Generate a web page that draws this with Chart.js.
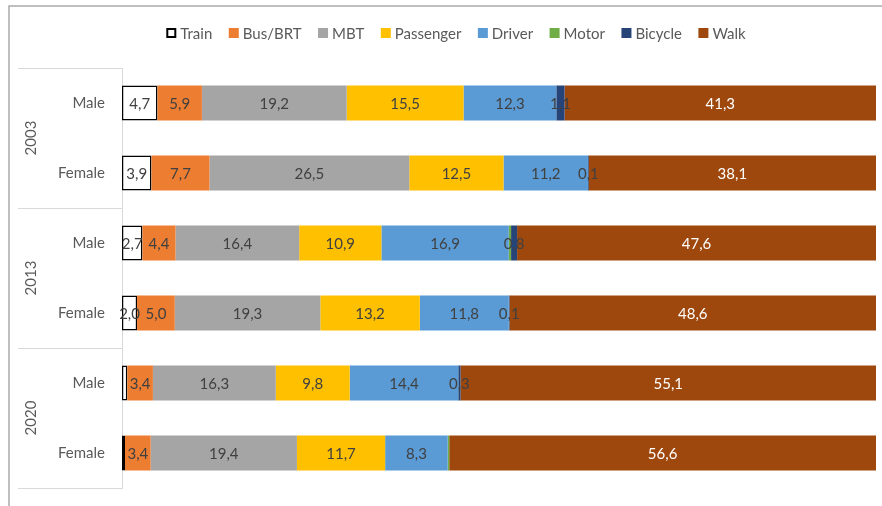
<!DOCTYPE html>
<html>
<head>
<meta charset="utf-8">
<script src="https://cdn.jsdelivr.net/npm/chart.js@4.4.1/dist/chart.umd.min.js"></script>
<style>
  html, body { margin: 0; padding: 0; background: #ffffff; }
  #wrap { width: 882px; height: 506px; position: relative; }
</style>
</head>
<body>
<div id="wrap"><canvas id="chart" width="882" height="506"></canvas></div>
<script>
// Modal split (%) by survey year and gender
const years = ['2003', '2013', '2020'];
const genders = ['Male', 'Female', 'Male', 'Female', 'Male', 'Female'];
const modes = ['Train', 'Bus/BRT', 'MBT', 'Passenger', 'Driver', 'Motor', 'Bicycle', 'Walk'];

const train     = [4.7, 3.9, 2.7, 2.0, 0.7, 0.4];
const busBrt    = [5.9, 7.7, 4.4, 5.0, 3.4, 3.4];
const mbt       = [19.2, 26.5, 16.4, 19.3, 16.3, 19.4];
const passenger = [15.5, 12.5, 10.9, 13.2, 9.8, 11.7];
const driver    = [12.3, 11.2, 16.9, 11.8, 14.4, 8.3];
const motor     = [0.0, 0.0, 0.3, 0.0, 0.0, 0.2];
const bicycle   = [1.1, 0.1, 0.8, 0.1, 0.3, 0.0];
const walk      = [41.3, 38.1, 47.6, 48.6, 55.1, 56.6];

const FONT = 'Lato, "Open Sans", sans-serif';
const seriesValues = [train, busBrt, mbt, passenger, driver, motor, bicycle, walk];
const fills   = ['#ffffff', '#ED7D31', '#A5A5A5', '#FFC000', '#5B9BD5', '#70AD47', '#264478', '#9E480E'];
const inkColors = ['#404040', '#404040', '#404040', '#404040', '#404040', '#404040', '#404040', '#ffffff'];

// each bar is shown as a share of its row total (100% stacked)
const rowTotals = genders.map((_, i) => seriesValues.reduce((s, arr) => s + arr[i], 0));

const datasets = modes.map((name, k) => ({
  label: name,
  data: seriesValues[k].map((v, i) => v / rowTotals[i] * 100),
  raw: seriesValues[k],
  backgroundColor: fills[k],
  borderColor: k === 0 ? '#000000' : fills[k],
  borderWidth: k === 0 ? 1.5 : 0,
  borderSkipped: false,
  categoryPercentage: 0.5,
  barPercentage: 1.0,
  inkColor: inkColors[k]
}));

function showLabel(k, v) {
  if (modes[k] === 'Motor') return false;
  if (modes[k] === 'Train') return v >= 1;
  return v > 0;
}

const fmt = v => v.toFixed(1).replace('.', ',');

// chart frame: left and top border lines
const framePlugin = {
  id: 'frame',
  beforeDraw(chart) {
    const c = chart.ctx;
    c.save();
    c.strokeStyle = '#ababab';
    c.lineWidth = 1.5;
    c.beginPath();
    c.moveTo(9, 506);
    c.lineTo(9, 6);
    c.lineTo(882, 6);
    c.stroke();
    c.restore();
  }
};

// legend row across the top
const legendPlugin = {
  id: 'modeLegend',
  afterDraw(chart) {
    const c = chart.ctx;
    c.save();
    c.font = '15px ' + FONT;
    c.textBaseline = 'middle';
    c.textAlign = 'left';
    const box = 10, gapText = 4, gapItem = 16.5, cy = 33;
    const widths = modes.map(m => box + gapText + c.measureText(m).width);
    const total = widths.reduce((a, b) => a + b, 0) + gapItem * (modes.length - 1);
    let x = (167 + 745) / 2 - total / 2;
    modes.forEach((m, k) => {
      if (k === 0) {
        c.fillStyle = '#ffffff';
        c.fillRect(x, cy - box / 2, box, box);
        c.strokeStyle = '#000000';
        c.lineWidth = 2;
        c.strokeRect(x + 1, cy - box / 2 + 1, box - 2, box - 2);
      } else {
        c.fillStyle = fills[k];
        c.fillRect(x, cy - box / 2, box, box);
      }
      c.fillStyle = '#595959';
      c.fillText(m, x + box + gapText, cy + 1);
      x += widths[k] + gapItem;
    });
    c.restore();
  }
};

// two-level category axis: gender labels, year group boxes, rotated years
const groupPlugin = {
  id: 'groups',
  afterDraw(chart) {
    const c = chart.ctx;
    const ys = chart.scales.y;
    const area = chart.chartArea;
    const centers = genders.map((_, i) => ys.getPixelForTick(i));
    const bounds = [area.top];
    for (let g = 1; g < years.length; g++) {
      bounds.push((centers[2 * g - 1] + centers[2 * g]) / 2);
    }
    bounds.push(area.bottom);
    c.save();
    c.strokeStyle = '#d9d9d9';
    c.lineWidth = 1;
    bounds.forEach(b => {
      const yy = Math.round(b) + 0.5;
      c.beginPath();
      c.moveTo(18, yy);
      c.lineTo(ys.right, yy);
      c.stroke();
    });
    c.fillStyle = '#595959';
    c.font = '15px ' + FONT;
    c.textBaseline = 'middle';
    c.textAlign = 'right';
    genders.forEach((gName, i) => {
      c.fillText(gName, 105, centers[i]);
    });
    c.textAlign = 'center';
    years.forEach((yr, g) => {
      const cy = (centers[2 * g] + centers[2 * g + 1]) / 2;
      c.save();
      c.translate(31, cy);
      c.rotate(-Math.PI / 2);
      c.fillText(yr, 0, 0);
      c.restore();
    });
    c.restore();
  }
};

// value labels centred in each segment
const valuePlugin = {
  id: 'values',
  afterDatasetsDraw(chart) {
    const c = chart.ctx;
    c.save();
    c.font = '15px ' + FONT;
    c.textAlign = 'center';
    c.textBaseline = 'middle';
    chart.data.datasets.forEach((ds, k) => {
      const meta = chart.getDatasetMeta(k);
      meta.data.forEach((bar, i) => {
        const v = ds.raw[i];
        if (!showLabel(k, v)) return;
        const cx = (bar.x + bar.base) / 2;
        c.fillStyle = ds.inkColor;
        c.fillText(fmt(v), cx, bar.y + 1);
      });
    });
    c.restore();
  }
};

new Chart(document.getElementById('chart'), {
  type: 'bar',
  data: { labels: genders, datasets },
  options: {
    indexAxis: 'y',
    responsive: false,
    devicePixelRatio: 1,
    animation: false,
    layout: { padding: { top: 68, left: 0, right: 6, bottom: 18 } },
    plugins: {
      legend: { display: false },
      tooltip: { enabled: false }
    },
    scales: {
      x: {
        stacked: true,
        min: 0,
        max: 100,
        display: false
      },
      y: {
        stacked: true,
        grid: { display: false, drawTicks: false },
        border: { display: true, color: '#d9d9d9', width: 1 },
        ticks: { display: false, padding: 0 },
        afterFit(s) { s.width = 122; }
      }
    }
  },
  plugins: [framePlugin, legendPlugin, groupPlugin, valuePlugin]
});
</script>
</body>
</html>
